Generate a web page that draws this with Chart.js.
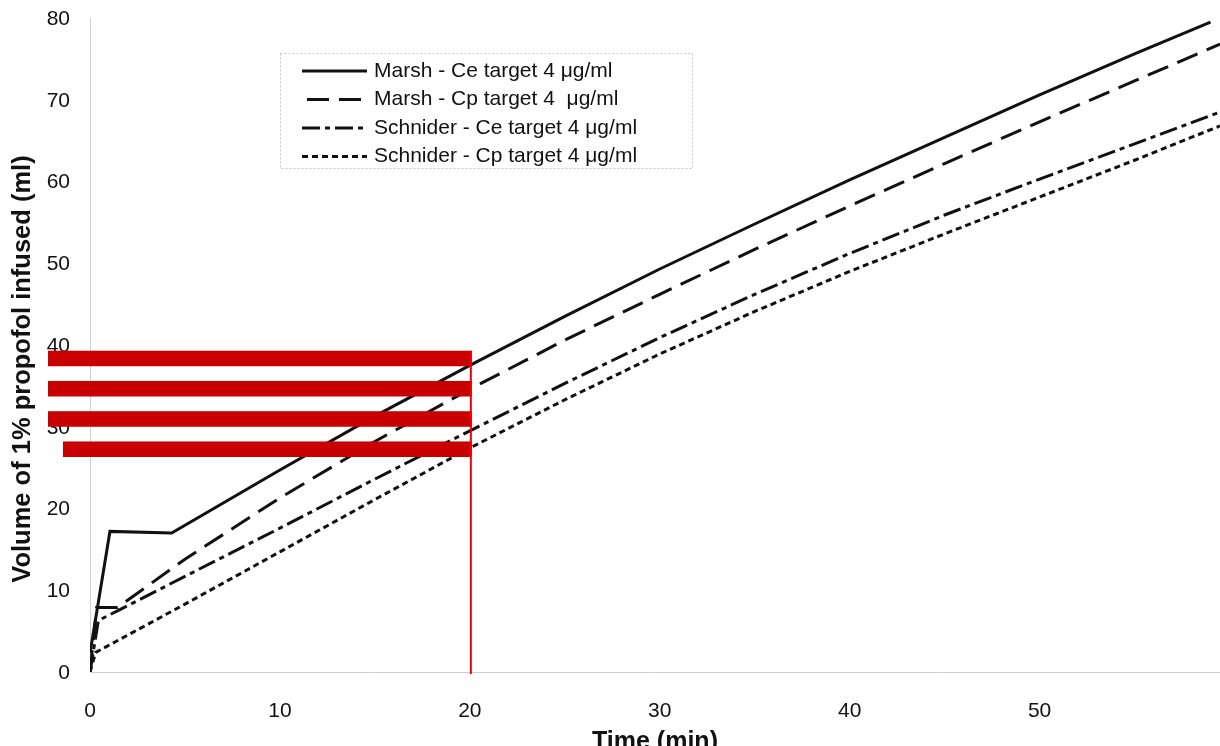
<!DOCTYPE html>
<html>
<head>
<meta charset="utf-8">
<script src="https://cdn.jsdelivr.net/npm/chart.js@4.4.1/dist/chart.umd.min.js"></script>
<style>
    html, body { margin: 0; padding: 0; background: #fff; overflow: hidden; }
    #wrap { position: relative; width: 1220px; height: 757px; }
</style>
</head>
<body>
<div id="wrap"><canvas id="volume-chart"></canvas></div>
<script>
    "use strict";

    // Marsh - Ce target
    var marshCeTime = [0, 1.05, 4.3, 10, 15, 20, 25, 30, 35, 40, 45, 50, 55, 59];
    var marshCeVol = [2.3, 17.2, 17.0, 24.7, 31.3, 37.5, 43.5, 49.3, 54.8, 60.2, 65.4, 70.6, 75.6, 79.5];

    // Marsh - Cp target
    var marshCpTime = [0, 0.35, 1.45, 5, 10, 15, 20, 25, 30, 35, 40, 45, 50, 55, 59.5];
    var marshCpVol = [0, 7.9, 7.9, 13.8, 21.3, 28.2, 34.6, 40.6, 46.2, 51.7, 57.0, 62.2, 67.3, 72.3, 76.8];

    // Schnider - Ce target
    var schniderCeTime = [0, 0.44, 1.55, 5, 10, 15, 20, 25, 30, 35, 40, 45, 50, 55, 59.5];
    var schniderCeVol = [0, 6.3, 7.6, 11.7, 17.6, 23.6, 29.5, 35.3, 40.9, 46.2, 51.2, 55.9, 60.3, 64.6, 68.5];

    // Schnider - Cp target
    var schniderCpTime = [0, 0.3, 5, 10, 15, 20, 25, 30, 35, 40, 45, 50, 55, 59.5];
    var schniderCpVol = [0, 2.4, 8.3, 14.7, 21.1, 27.4, 33.3, 38.9, 44.1, 49.0, 53.6, 58.1, 62.6, 66.8];

    var seriesLabels = [
        "Marsh - Ce target 4 \u03bcg/ml",
        "Marsh - Cp target 4  \u03bcg/ml",
        "Schnider - Ce target 4 \u03bcg/ml",
        "Schnider - Cp target 4 \u03bcg/ml"
    ];

    var xTicks = [0, 10, 20, 30, 40, 50];
    var yTicks = [0, 10, 20, 30, 40, 50, 60, 70, 80];

    var FONT = "'Liberation Sans', Arial, Helvetica, sans-serif";
    var INK = "#111";

    function points(xs, ys) {
        return xs.map(function (x, i) { return { x: x, y: ys[i] }; });
    }

    function lineSet(label, xs, ys, dash) {
        return {
            label: label,
            data: points(xs, ys),
            borderColor: INK,
            borderWidth: 3,
            borderDash: dash,
            pointRadius: 0,
            tension: 0,
            fill: false
        };
    }

    // Legend box drawn inside the plot
    var boxLegend = {
        id: "boxLegend",
        afterDraw: function (chart) {
            var ctx = chart.ctx;
            var left = chart.chartArea.left + 190, top = 53, w = 412, h = 115;
            ctx.save();
            ctx.strokeStyle = "#c4c4c4";
            ctx.lineWidth = 1;
            ctx.setLineDash([2, 2]);
            ctx.strokeRect(left + 0.5, top + 0.5, w, h);
            ctx.font = "21px " + FONT;
            ctx.textBaseline = "middle";
            ctx.fillStyle = INK;
            chart.data.datasets.forEach(function (ds, i) {
                var y = top + 18 + i * 28.5;
                ctx.strokeStyle = INK;
                ctx.lineWidth = 3;
                ctx.setLineDash(ds.borderDash || []);
                ctx.lineDashOffset = i === 1 ? 27 : 0;
                ctx.beginPath();
                ctx.moveTo(left + 22, y);
                ctx.lineTo(left + 87, y);
                ctx.stroke();
                ctx.fillText(ds.label, left + 94, y);
            });
            ctx.restore();
        }
    };

    // Rotated y axis title (sits a bit below the plot centre)
    var yTitle = {
        id: "yTitle",
        afterDraw: function (chart) {
            var ctx = chart.ctx;
            var a = chart.chartArea;
            ctx.save();
            ctx.translate(23, (a.top + a.bottom) / 2 + 24);
            ctx.rotate(-Math.PI / 2);
            ctx.font = "bold 25.5px " + FONT;
            ctx.fillStyle = INK;
            ctx.textAlign = "center";
            ctx.textBaseline = "middle";
            ctx.fillText("Volume of 1% propofol infused (ml)", 0, 0);
            ctx.restore();
        }
    };

    // Red strips and marker line that cover the early part of the plot
    var redactTop = [39.3, 35.6, 31.9, 28.2];
    var redactBottom = [37.4, 33.7, 30.0, 26.3];
    var redactLeftOffset = [42, 42, 42, 27];
    var redactUntil = 20;
    var redaction = {
        id: "redaction",
        afterDatasetsDraw: function (chart) {
            var ctx = chart.ctx;
            var xs = chart.scales.x, ys = chart.scales.y;
            var right = xs.getPixelForValue(redactUntil) + 2;
            ctx.save();
            ctx.fillStyle = "#c90000";
            redactTop.forEach(function (t, i) {
                var y1 = ys.getPixelForValue(t);
                var y2 = ys.getPixelForValue(redactBottom[i]);
                var x1 = chart.chartArea.left - redactLeftOffset[i];
                ctx.fillRect(x1, y1, right - x1, y2 - y1);
            });
            ctx.strokeStyle = "#f00000";
            ctx.lineWidth = 2;
            ctx.beginPath();
            ctx.moveTo(right - 1, ys.getPixelForValue(redactTop[0]));
            ctx.lineTo(right - 1, ys.getPixelForValue(0) + 2);
            ctx.stroke();
            ctx.restore();
        }
    };

    var ctx = document.getElementById("volume-chart").getContext("2d");
    var volumeChart = new Chart(ctx, {
        type: "line",
        data: {
            datasets: [
                lineSet(seriesLabels[0], marshCeTime, marshCeVol, []),
                lineSet(seriesLabels[1], marshCpTime, marshCpVol, [22, 10]),
                lineSet(seriesLabels[2], schniderCeTime, schniderCeVol, [18, 5, 5, 5]),
                lineSet(seriesLabels[3], schniderCpTime, schniderCpVol, [6, 4])
            ]
        },
        options: {
            responsive: true,
            maintainAspectRatio: false,
            animation: false,
            layout: { padding: { top: 18, right: 0, left: 0, bottom: 0 } },
            plugins: {
                legend: { display: false },
                tooltip: { enabled: false }
            },
            scales: {
                x: {
                    type: "linear",
                    min: 0,
                    max: 59.5,
                    afterFit: function (scale) {
                        scale.height = 85;
                        scale.paddingLeft = 0;
                        scale.paddingRight = 0;
                    },
                    afterBuildTicks: function (scale) {
                        scale.ticks = xTicks.map(function (v) { return { value: v }; });
                    },
                    grid: { display: false },
                    border: { display: true, color: "#cfcfcf", dash: [2, 2], width: 1 },
                    ticks: {
                        includeBounds: false,
                        autoSkip: false,
                        maxRotation: 0,
                        padding: 19,
                        color: INK,
                        font: { family: FONT, size: 21 }
                    },
                    title: {
                        display: true,
                        text: "Time (min)",
                        color: INK,
                        padding: { top: 0, bottom: 0 },
                        font: { family: FONT, size: 25, weight: "bold" }
                    }
                },
                y: {
                    type: "linear",
                    min: 0,
                    max: 80,
                    afterFit: function (scale) {
                        scale.width = 90;
                        scale.paddingTop = 0;
                        scale.paddingBottom = 0;
                    },
                    afterBuildTicks: function (scale) {
                        scale.ticks = yTicks.map(function (v) { return { value: v }; });
                    },
                    grid: { display: false },
                    border: { display: true, color: "#cfcfcf", dash: [2, 2], width: 1 },
                    ticks: {
                        padding: 12,
                        labelOffset: 1,
                        color: INK,
                        font: { family: FONT, size: 21 }
                    }
                }
            }
        },
        plugins: [redaction, boxLegend, yTitle]
    });
</script>
</body>
</html>
